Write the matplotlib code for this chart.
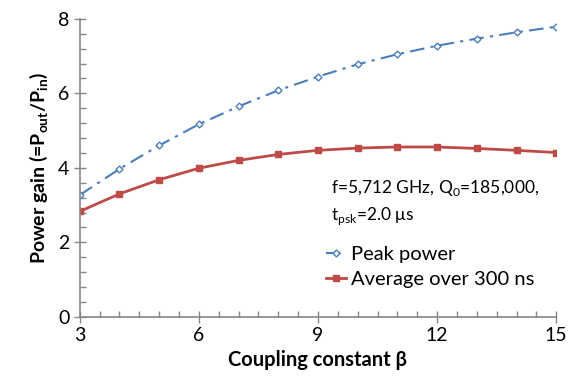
import matplotlib.pyplot as plt
from matplotlib.ticker import MultipleLocator

beta = [3, 4, 5, 6, 7, 8, 9, 10, 11, 12, 13, 14, 15]
peak = [3.27, 3.97, 4.60, 5.17, 5.65, 6.08, 6.45, 6.78, 7.05, 7.28, 7.47, 7.64, 7.79]
avg = [2.83, 3.30, 3.68, 3.99, 4.20, 4.36, 4.47, 4.53, 4.56, 4.56, 4.52, 4.47, 4.41]

plt.rcParams["font.family"] = ["Lato", "DejaVu Sans"]
grey = "#868686"

fig = plt.figure(figsize=(5.74, 3.78), dpi=100)
ax = fig.add_axes([0.139, 0.162, 0.830, 0.788])

ax.plot(beta, peak, color="#4a7ebb", ls=(0, (7, 3, 1.5, 3)), lw=1.5,
        marker="D", ms=3.5, mfc="white", mec="#4a7ebb", mew=1,
        label="Peak power")
ax.plot(beta, avg, color="#be4b48", ls="-", lw=2,
        marker="s", ms=5, label="Average over 300 ns")

ax.set_xlim(3, 15)
ax.set_ylim(0, 8)
ax.xaxis.set_major_locator(MultipleLocator(3))
ax.xaxis.set_minor_locator(MultipleLocator(0.5))
ax.yaxis.set_major_locator(MultipleLocator(2))
ax.yaxis.set_minor_locator(MultipleLocator(0.4))

for side in ["top", "right"]:
    ax.spines[side].set_visible(False)
for side in ["left", "bottom"]:
    ax.spines[side].set_color(grey)
    ax.spines[side].set_linewidth(1.2)

ax.tick_params(which="major", direction="inout", length=9, width=1, color=grey,
               labelsize=14, pad=3)
ax.tick_params(which="minor", direction="in", length=4, width=1, color=grey)

ax.set_xlabel("Coupling constant β", fontsize=14.5, fontweight="bold", labelpad=4)
ax.set_ylabel(r"Power gain (=P$_{\mathregular{out}}$/P$_{\mathregular{in}}$)",
              fontsize=14, fontweight="bold", labelpad=6)

ax.text(0.527, 0.30, "f=5,712 GHz, Q$_{\\mathregular{0}}$=185,000,\nt$_{\\mathregular{psk}}$=2.0 μs",
        transform=ax.transAxes, fontsize=12.5, linespacing=1.5, va="bottom")

ax.legend(loc="lower left", bbox_to_anchor=(0.50, 0.07), frameon=False,
          fontsize=14.5, handlelength=1.0, handletextpad=0.25, labelspacing=0.4,
          borderaxespad=0)

fig.savefig("out.png", dpi=100)
